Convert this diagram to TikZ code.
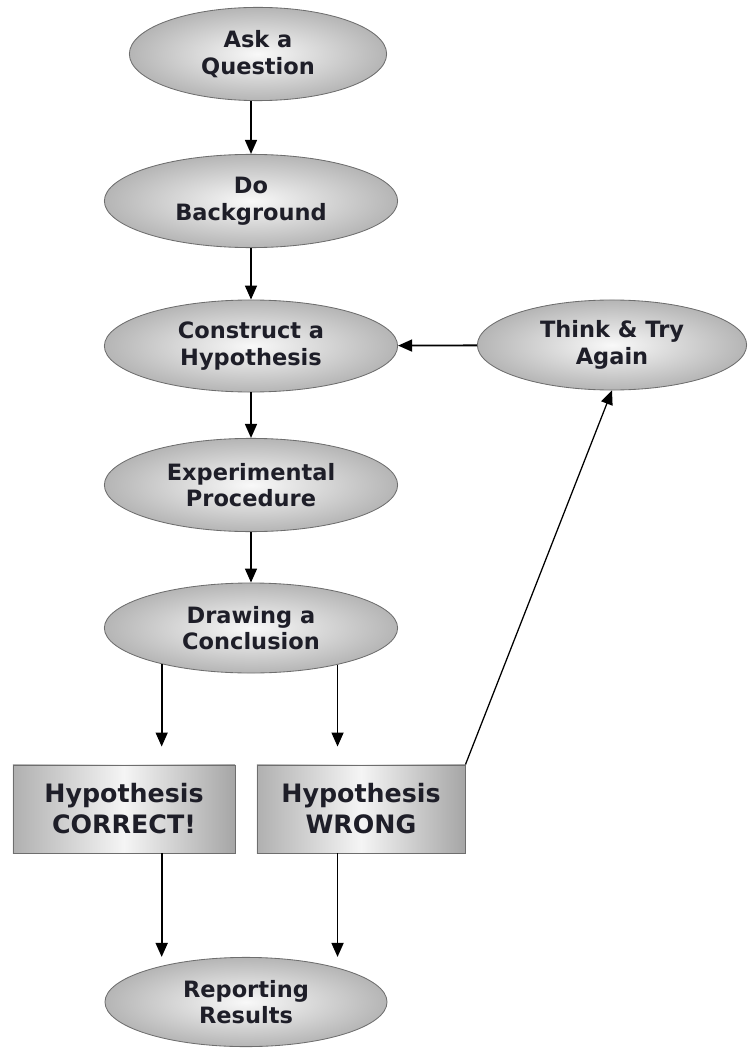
\documentclass[tikz,border=0pt]{standalone}
\usepackage{fontspec}
\setsansfont{DejaVu Sans}
\usepackage{tikz}
\usetikzlibrary{positioning, arrows.meta, shapes.geometric}
\definecolor{edgegray}{HTML}{6E6E6E}
\definecolor{textdark}{HTML}{1E1E28}

\begin{document}
\begin{tikzpicture}[
    x=0.025cm, y=-0.025cm,
    >={Triangle[width=8.5pt, length=10pt]},
    oval/.style={
        ellipse, draw=edgegray, line width=0.6pt, inner sep=0pt,
        minimum width=7.33cm, minimum height=2.33cm, align=center,
        shading=radial, inner color=gray!5, outer color=gray!58,
        text=textdark, font={\fontsize{16}{19}\selectfont\sffamily\bfseries}
    },
    result/.style={
        rectangle, draw=edgegray, line width=0.6pt, inner sep=0pt,
        minimum height=2.2cm, align=center,
        left color=gray!62, right color=gray!70, middle color=gray!8,
        text=textdark, font={\fontsize{18}{22}\selectfont\sffamily\bfseries}
    },
    arrow/.style={->, line width=1.3pt, color=black},
]
\useasboundingbox (0,0) rectangle (748,1050);

% ── Main steps ─────────────────────────────────────────────────────────────
\node[oval, minimum width=6.43cm] (ask) at (258,54) {Ask a\\Question};
\node[oval] (bg) at (251,201) {Do\\Background};
\node[oval, minimum height=2.3cm] (hyp) at (251,346) {Construct a\\Hypothesis};
\node[oval] (exp) at (251,485) {Experimental\\Procedure};
\node[oval, minimum height=2.25cm] (concl) at (251,628) {Drawing a\\Conclusion};

% ── Loop back ──────────────────────────────────────────────────────────────
\node[oval, minimum width=6.73cm, minimum height=2.25cm] (think) at (612,345)
    {Think \& Try\\Again};

% ── Outcomes ───────────────────────────────────────────────────────────────
\node[result, minimum width=5.55cm] (correct) at (124,809) {Hypothesis\\CORRECT!};
\node[result, minimum width=5.2cm] (wrong) at (361,809) {Hypothesis\\WRONG};

% ── Report ─────────────────────────────────────────────────────────────────
\node[oval, minimum width=7.05cm, minimum height=2.23cm] (report) at (246,1002)
    {Reporting\\Results};

% ── Arrows ─────────────────────────────────────────────────────────────────
\draw[arrow] (ask.south -| bg.north) -- (bg.north);
\draw[arrow] (bg) -- (hyp);
\draw[arrow] (hyp) -- (exp);
\draw[arrow] (exp) -- (concl);
\draw[arrow] (think) -- (hyp);
\draw[arrow, shorten >=0.45cm] (concl.-158) -- (concl.-158 |- correct.north);
\draw[arrow, shorten >=0.45cm] (concl.-23) -- (concl.-23 |- wrong.north);
\draw[arrow] (concl.-158 |- correct.south) -- (concl.-158 |- report.north);
\draw[arrow] (concl.-23 |- wrong.south) -- (concl.-23 |- report.north);
\draw[arrow, line width=0.9pt] (wrong.north east) -- (think.south);

\end{tikzpicture}
\end{document}
